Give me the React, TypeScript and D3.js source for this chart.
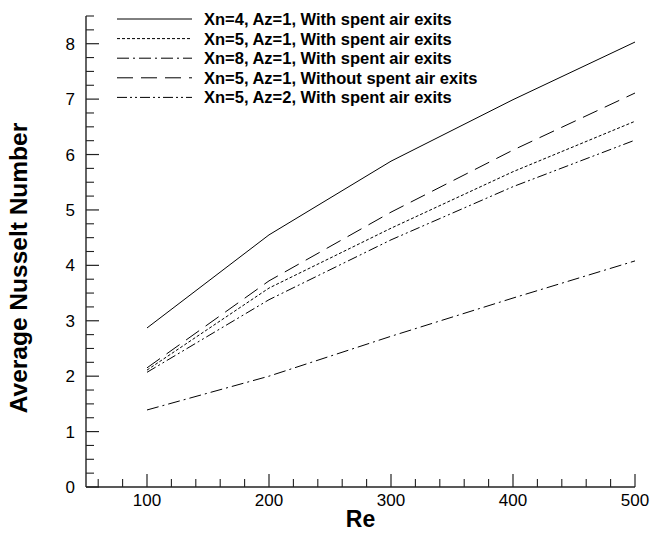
import React from "react";
import * as d3 from "d3";

const reValues = [100, 200, 300, 400, 500];
const seriesNames = [
  "Xn=4, Az=1, With spent air exits",
  "Xn=5, Az=1, With spent air exits",
  "Xn=8, Az=1, With spent air exits",
  "Xn=5, Az=1, Without spent air exits",
  "Xn=5, Az=2, With spent air exits",
];
const xn4Az1With = [2.87, 4.55, 5.88, 6.99, 8.03];
const xn5Az1With = [2.11, 3.59, 4.67, 5.69, 6.6];
const xn8Az1With = [1.39, 2.0, 2.72, 3.41, 4.08];
const xn5Az1Without = [2.15, 3.72, 4.96, 6.08, 7.11];
const xn5Az2With = [2.07, 3.38, 4.46, 5.42, 6.26];
const seriesValues = [xn4Az1With, xn5Az1With, xn8Az1With, xn5Az1Without, xn5Az2With];
const dashes = ["none", "3,2", "12,4,2,4", "16,8", "10,3,2,3,2,3"];
const xMajorTicks = [100, 200, 300, 400, 500];
const yMajorTicks = [0, 1, 2, 3, 4, 5, 6, 7, 8];

const W = 651, H = 534;
const font = "'Liberation Sans', Arial, Helvetica, sans-serif";

export default function App() {
  const x = d3.scaleLinear().domain([50, 500]).range([86, 635]);
  const y = d3.scaleLinear().domain([0, 8.5]).range([487, 16]);
  const line = d3
    .line<number>()
    .x((_, i) => x(reValues[i]))
    .y((d) => y(d));
  const xMinor = d3.range(60, 501, 20).filter((v) => !xMajorTicks.includes(v));
  const yMinor = d3.range(0, 8.51, 0.25).filter((v) => Math.abs(v - Math.round(v)) > 1e-6);
  const axisColor = "#222";
  return (
    <svg width={W} height={H} style={{ position: "absolute", left: 0, top: 0, background: "#fff" }}>
      {/* axes */}
      <line x1={x(50)} x2={x(50)} y1={y(8.5)} y2={y(0)} stroke={axisColor} strokeWidth={1.4} />
      <line x1={x(50)} x2={x(500)} y1={y(0)} y2={y(0)} stroke={axisColor} strokeWidth={1.4} />
      {yMajorTicks.map((v) => (
        <g key={"ym" + v}>
          <line x1={x(50)} x2={x(50) + 13} y1={y(v)} y2={y(v)} stroke={axisColor} strokeWidth={1.2} />
          <text x={x(50) - 11} y={y(v)} dy="0.36em" textAnchor="end" fontFamily={font} fontSize={17}>
            {v}
          </text>
        </g>
      ))}
      {yMinor.map((v) => (
        <line key={"yn" + v} x1={x(50)} x2={x(50) + 8} y1={y(v)} y2={y(v)} stroke={axisColor} strokeWidth={1.1} />
      ))}
      {xMajorTicks.map((v) => (
        <g key={"xm" + v}>
          <line x1={x(v)} x2={x(v)} y1={y(0)} y2={y(0) - 13} stroke={axisColor} strokeWidth={1.2} />
          <text x={x(v)} y={y(0) + 19} textAnchor="middle" fontFamily={font} fontSize={17}>
            {v}
          </text>
        </g>
      ))}
      {xMinor.map((v) => (
        <line key={"xn" + v} x1={x(v)} x2={x(v)} y1={y(0)} y2={y(0) - 8} stroke={axisColor} strokeWidth={1.1} />
      ))}
      <text x={(x(50) + x(500)) / 2} y={527} textAnchor="middle" fontFamily={font} fontSize={23} fontWeight="bold">
        Re
      </text>
      <text
        transform={`translate(27,268) rotate(-90)`}
        textAnchor="middle"
        fontFamily={font}
        fontSize={24.5}
        fontWeight="bold"
      >
        Average Nusselt Number
      </text>
      {/* series */}
      {seriesValues.map((s, i) => (
        <path
          key={"s" + i}
          d={line(s) || ""}
          fill="none"
          stroke="#000"
          strokeWidth={1}
          strokeDasharray={dashes[i]}
        />
      ))}
      {/* legend */}
      {seriesNames.map((n, i) => {
        const ly = 19 + i * 19.6;
        return (
          <g key={"l" + i}>
            <line x1={117} x2={192} y1={ly} y2={ly} stroke="#000" strokeWidth={1} strokeDasharray={dashes[i]} />
            <text x={204} y={ly} dy="0.36em" fontFamily={font} fontSize={16.5} fontWeight="bold">
              {n}
            </text>
          </g>
        );
      })}
    </svg>
  );
}
